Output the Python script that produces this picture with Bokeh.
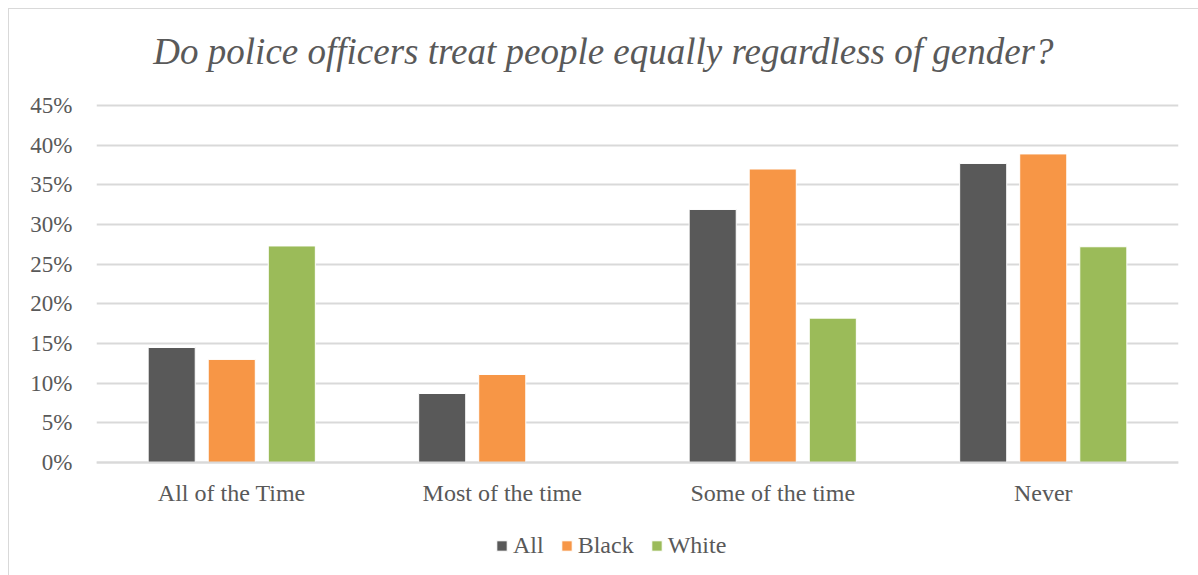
from bokeh.plotting import figure
from bokeh.models import (FactorRange, Range1d, NumeralTickFormatter, FixedTicker,
                          Legend, LegendItem, ColumnDataSource, Label)
from bokeh.transform import dodge
from bokeh.embed import file_html
from bokeh.resources import INLINE

categories = ["All of the Time", "Most of the time", "Some of the time", "Never"]
series_names = ["All", "Black", "White"]
all_vals = [0.145, 0.087, 0.319, 0.377]
black_vals = [0.130, 0.111, 0.370, 0.389]
white_vals = [0.273, 0.0, 0.182, 0.272]
y_ticks = [0, 0.05, 0.10, 0.15, 0.20, 0.25, 0.30, 0.35, 0.40, 0.45]
colors = ["#595959", "#F79646", "#9BBB59"]
title_text = "Do police officers treat people equally regardless of gender?"

TEXT = "#595959"
SERIF = "Liberation Serif"

source = ColumnDataSource(dict(cat=categories, All=all_vals, Black=black_vals, White=white_vals))

# the frame extends above 45% (title area) and below 0% (labels + legend area)
p = figure(
    x_range=FactorRange(*categories, range_padding=0),
    y_range=Range1d(-0.1424, 0.5572),
    width=1190, height=611,
    frame_width=1082, frame_height=555,
    min_border_left=87, min_border_right=21, min_border_top=11, min_border_bottom=0,
    output_backend="svg", toolbar_location=None,
)
p.margin = (8, 0, 0, 8)
p.styles = {"border-left": "1px solid #D9D9D9", "border-top": "1px solid #D9D9D9"}
p.background_fill_color = "white"
p.border_fill_color = "white"
p.outline_line_color = None

offsets = [-0.222, 0.0, 0.222]
items = []
for name, off, col in zip(series_names, offsets, colors):
    r = p.vbar(x=dodge("cat", off, range=p.x_range), top=name, bottom=0, width=0.174,
               source=source, fill_color=col, line_color="white", line_width=1)
    items.append(LegendItem(label=name, renderers=[r]))

# axes
p.yaxis.ticker = FixedTicker(ticks=y_ticks)
p.yaxis.formatter = NumeralTickFormatter(format="0%")
p.yaxis.axis_line_color = None
p.yaxis.major_tick_line_color = None
p.yaxis.minor_tick_line_color = None
p.yaxis.major_label_text_font = SERIF
p.yaxis.major_label_text_font_size = "23px"
p.yaxis.major_label_text_color = TEXT
p.yaxis.major_label_standoff = 18

p.xaxis.fixed_location = 0
p.xaxis.axis_line_color = "#D9D9D9"
p.xaxis.axis_line_width = 2
p.xaxis.major_tick_line_color = None
p.xaxis.minor_tick_line_color = None
p.xaxis.major_label_text_font = SERIF
p.xaxis.major_label_text_font_size = "24px"
p.xaxis.major_label_text_color = TEXT
p.xaxis.major_label_standoff = 11

p.xgrid.grid_line_color = None
p.ygrid.grid_line_color = "#D9D9D9"
p.ygrid.grid_line_width = 2

# title
title = Label(x=1.874, y=0.518, text=title_text, text_align="center",
              text_baseline="middle", text_font=SERIF, text_font_size="37px",
              text_font_style="italic", text_color=TEXT)
p.add_layout(title)

# legend
legend = Legend(items=items, orientation="horizontal", location=(399, 16),
                glyph_width=13, glyph_height=13,
                label_standoff=5, spacing=16, padding=0, margin=0,
                border_line_color=None, background_fill_color=None)
legend.label_text_font = SERIF
legend.label_text_font_size = "24px"
legend.label_text_color = TEXT
p.add_layout(legend)

open("out.html", "w").write(file_html(p, INLINE))
